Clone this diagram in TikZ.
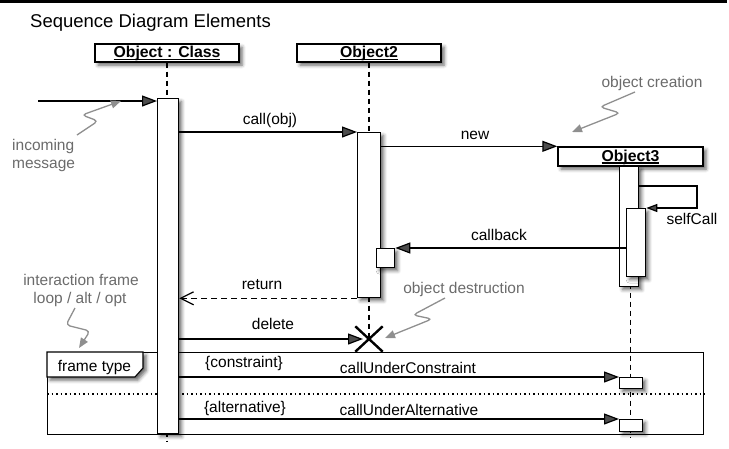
\documentclass[tikz,border=0pt]{standalone}
\usepackage{fontspec}
\setmainfont{Liberation Sans}
\usetikzlibrary{arrows.meta,shadows.blur,shapes.misc}
\newcommand\objul[1]{\setbox0\hbox{#1}\rlap{\vrule width\wd0 height -1.4pt depth 2.8pt}\box0}
\definecolor{notetext}{gray}{0.42}
\definecolor{notearrow}{gray}{0.56}
\begin{document}
\begin{tikzpicture}[x=1pt,y=-1pt,
  font=\fontsize{15.5}{18}\selectfont,
  sh/.style={blur shadow={shadow xshift=3pt,shadow yshift=-3pt,shadow blur radius=3.5pt,shadow opacity=60}},
  objbox/.style={draw,line width=1.4pt,fill=white,sh,inner sep=0pt,text height=12pt,text depth=3pt,
     font=\fontsize{15.8}{18}\selectfont\bfseries},
  actbox/.style={draw,line width=1.3pt,fill=white,sh,inner sep=0pt,anchor=north west},
  life/.style={line width=1.1pt,dash pattern=on 5pt off 4pt},
  msg/.style={line width=1.2pt,-{Triangle[length=15pt,width=11pt]}},
  selfmsg/.style={line width=1.2pt,-{Triangle[length=11pt,width=8pt]}},
  retmsg/.style={line width=1.2pt,dash pattern=on 6pt off 4pt,-{Straight Barb[length=13pt,width=13pt,line width=1.2pt]}},
  lbl/.style={anchor=base,inner sep=0pt},
  note/.style={anchor=base,inner sep=0pt,text=notetext},
  notearr/.style={draw=notearrow,line width=1.3pt,rounded corners=4pt,-{Triangle[length=10pt,width=8pt,fill=notearrow]}},
]
\useasboundingbox (0,0) rectangle (729,448);
% top bar and title
\fill (0,0) rectangle (727,3);
\node[anchor=base west,inner sep=0pt,font=\fontsize{18.5}{22}\selectfont] (title) at (30,27) {Sequence Diagram Elements};

% interaction frame
\node[draw,line width=1.1pt,anchor=north west,inner sep=0pt,minimum width=656pt,minimum height=82pt] (frame) at (47,352) {};
\coordinate (sep) at (0,394);
\draw[line width=1.1pt,dash pattern=on 1.5pt off 3pt] (frame.west |- sep) -- (frame.east |- sep);
\draw[line width=1.1pt,fill=white,sh] (frame.north west) -- ++(96,0) -- ++(0,16) -- ++(-8,9) -- ++(-88,0) -- cycle;
\node[lbl] (ftype) at (94.5,371) {frame type};

% objects
\node[objbox,minimum width=144pt,minimum height=18pt] (o1) at (167,53) {\objul{Object : Class}};
\node[objbox,minimum width=144pt,minimum height=18pt] (o2) at (369,53) {\objul{Object2}};

% lifelines
\coordinate (l1end) at (167,442);
\coordinate (l3end) at (630.5,437);
\draw[life] (o1.south) -- (l1end);
\node[cross out,draw,line width=2.4pt,minimum width=25pt,minimum height=23pt,inner sep=0pt] (dx) at (369,339) {};
\draw[life] (o2.south) -- (dx.center);

\node[objbox,minimum width=145pt,minimum height=19pt] (o3) at (630.5,156.5) {\objul{Object3}};
\draw[life] (o3.south) -- (l3end);

% activations
\node[actbox,minimum width=21pt,minimum height=335pt] (a1) at (157,98) {};
\node[actbox,minimum width=23pt,minimum height=165pt] (a2) at (357,132) {};
\node[actbox,minimum width=18pt,minimum height=19pt] (a2s) at (376,248) {};
\node[actbox,minimum width=19pt,minimum height=120pt] (a3) at (619,166) {};
\node[actbox,minimum width=19pt,minimum height=68pt] (a3b) at (626,208) {};
\node[actbox,minimum width=23pt,minimum height=11pt] (c1) at (619,377) {};
\node[actbox,minimum width=23pt,minimum height=12pt] (c2) at (619,419) {};

% messages
\coordinate (inS) at (38,101);
\draw[msg] (inS) -- (a1.west |- inS);
\draw[msg] (a1.east |- a2.north) -- (a2.north west);
\node[lbl] (lcall) at (270,124) {call(obj)};
\draw[msg] (a2.east |- o3.north) -- (o3.north west);
\node[lbl] (lnew) at (475,139) {new};
\coordinate (sc) at (697,186);
\draw[selfmsg] (a3.east |- sc) -- (sc) |- (a3b.north east);
\node[lbl] (lself) at (692,224) {selfCall};
\draw[msg] (a3b.west |- a2s.north) -- (a2s.north east);
\node[lbl] (lcb) at (499,240) {callback};
\draw[retmsg] (a2.south west) -- (a1.east |- a2.south);
\node[lbl] (lret) at (262,289) {return};
\draw[msg,shorten >=6pt] (a1.east |- dx) -- (dx.center);
\node[lbl] (ldel) at (273,329) {delete};
\draw[msg] (a1.east |- c1.north) -- (c1.north west);
\node[lbl] (lcon) at (244,367) {\{constraint\}};
\node[lbl] (lcuc) at (408,373) {callUnderConstraint};
\draw[msg] (a1.east |- c2.north) -- (c2.north west);
\node[lbl] (lalt) at (245,412) {\{alternative\}};
\node[lbl] (lcua) at (409,415) {callUnderAlternative};

% annotations
\node[note,anchor=base west] (ninc1) at (12,150) {incoming};
\node[note,anchor=base west] (ninc2) at (12,168) {message};
\draw[notearr] (77,135) -- (98,121) -- (82,115) -- (121,101);

\node[note] (ncre) at (652,87) {object creation};
\draw[notearr] (635,92) -- (600,107) -- (620,113) -- (572,132);

\node[note] (ndes) at (464,293) {object destruction};
\draw[notearr] (445,298) -- (413,315) -- (432,319) -- (385,338);

\node[note] (nint1) at (81,285) {interaction frame};
\node[note] (nint2) at (80,303) {loop / alt / opt};
\draw[notearr] (75,308) -- (66,325) -- (90,331) -- (79,348);
\end{tikzpicture}
\end{document}
